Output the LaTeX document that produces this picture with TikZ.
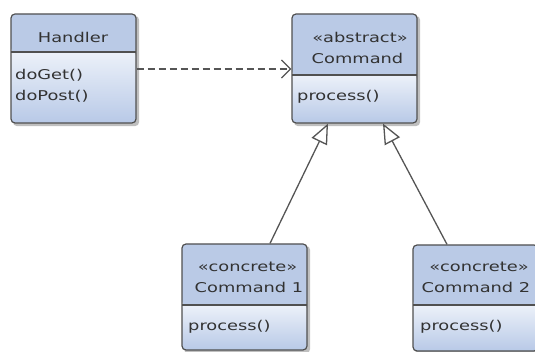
\documentclass[tikz,border=0pt]{standalone}
\usepackage{fontspec}
\newfontfamily\umlfont[FakeStretch=1.32]{DejaVu Sans}
\usetikzlibrary{arrows.meta,backgrounds}
\definecolor{hdrcol}{RGB}{186,202,230}
\definecolor{bodytop}{RGB}{236,241,249}
\definecolor{bodybot}{RGB}{184,201,231}
\definecolor{bordercol}{RGB}{80,80,80}
\definecolor{txtcol}{RGB}{50,50,50}
\definecolor{linecol}{RGB}{85,85,85}
\begin{document}
\begin{tikzpicture}[x=1pt,y=-1pt,
  hdr/.store in=\hdrh, hdr=38,
  cls/.style={draw=bordercol, line width=1.2pt, rounded corners=4pt, inner sep=0pt,
    path picture={
      \fill[hdrcol] (path picture bounding box.north west) rectangle ([yshift=-\hdrh pt]path picture bounding box.north east);
      \shade[top color=bodytop, bottom color=bodybot] ([yshift=-\hdrh pt]path picture bounding box.north west) rectangle (path picture bounding box.south east);
      \draw[bordercol, line width=1.2pt] ([yshift=-\hdrh pt]path picture bounding box.north west) -- ([yshift=-\hdrh pt]path picture bounding box.north east);
    }},
  txt/.style={font=\umlfont\fontsize{13.5}{15}\selectfont, text=txtcol, inner sep=0pt},
  ltxt/.style={txt, anchor=west},
  shadowbox/.style={fill=black, opacity=0.25, rounded corners=4pt},
  dep/.style={draw=linecol, line width=1.3pt, dash pattern=on 7pt off 4pt, -{Straight Barb[length=9pt,width=18pt,line width=1.3pt]}},
  gen/.style={draw=linecol, line width=1.3pt, -{Triangle[open,length=20pt,width=17pt,line width=1.3pt,fill=white]}}
]
\useasboundingbox (0,0) rectangle (535,352);
\clip (0,0) rectangle (535,352);

% class boxes
\node[cls, hdr=38, minimum width=125pt, minimum height=109pt] (handler) at (73.5,68.5) {};
\node[cls, hdr=61, minimum width=125pt, minimum height=109pt] (cmd) at (354.5,68.5) {};
\node[cls, hdr=61, minimum width=125pt, minimum height=106pt] (c1) at (244.5,297) {};
\node[cls, hdr=60, minimum width=125pt, minimum height=106pt] (c2) at (475.5,298) {};

% shadows
\begin{scope}[on background layer]
  \foreach \n in {handler,cmd,c1,c2}{
    \fill[shadowbox] ([shift={(2.5,2.5)}]\n.north west) rectangle ([shift={(2.5,2.5)}]\n.south east);
  }
\end{scope}

% texts
\node[txt] (handler-name) at (73,37) {Handler};
\node[ltxt] (handler-op1) at (15,75) {doGet()};
\node[ltxt] (handler-op2) at (15,96) {doPost()};

\node[txt] (cmd-st) at (360,37) {«abstract»};
\node[txt] (cmd-name) at (357.5,58) {Command};
\node[ltxt] (cmd-op) at (297,97) {process()};

\node[txt] (c1-st) at (247.5,267) {«concrete»};
\node[txt] (c1-name) at (249,287) {Command 1};
\node[ltxt] (c1-op) at (188,327) {process()};

\node[txt] (c2-st) at (479,267) {«concrete»};
\node[txt] (c2-name) at (476,287) {Command 2};
\node[ltxt] (c2-op) at (420,327) {process()};

% connectors
\draw[dep] (handler.east |- 0,69) -- (cmd.west |- 0,69);
\draw[gen] ([xshift=25.5pt]c1.north) -- ([xshift=-26.5pt]cmd.south);
\draw[gen] ([xshift=-28.5pt]c2.north) -- ([xshift=28.5pt]cmd.south);
\end{tikzpicture}
\end{document}
